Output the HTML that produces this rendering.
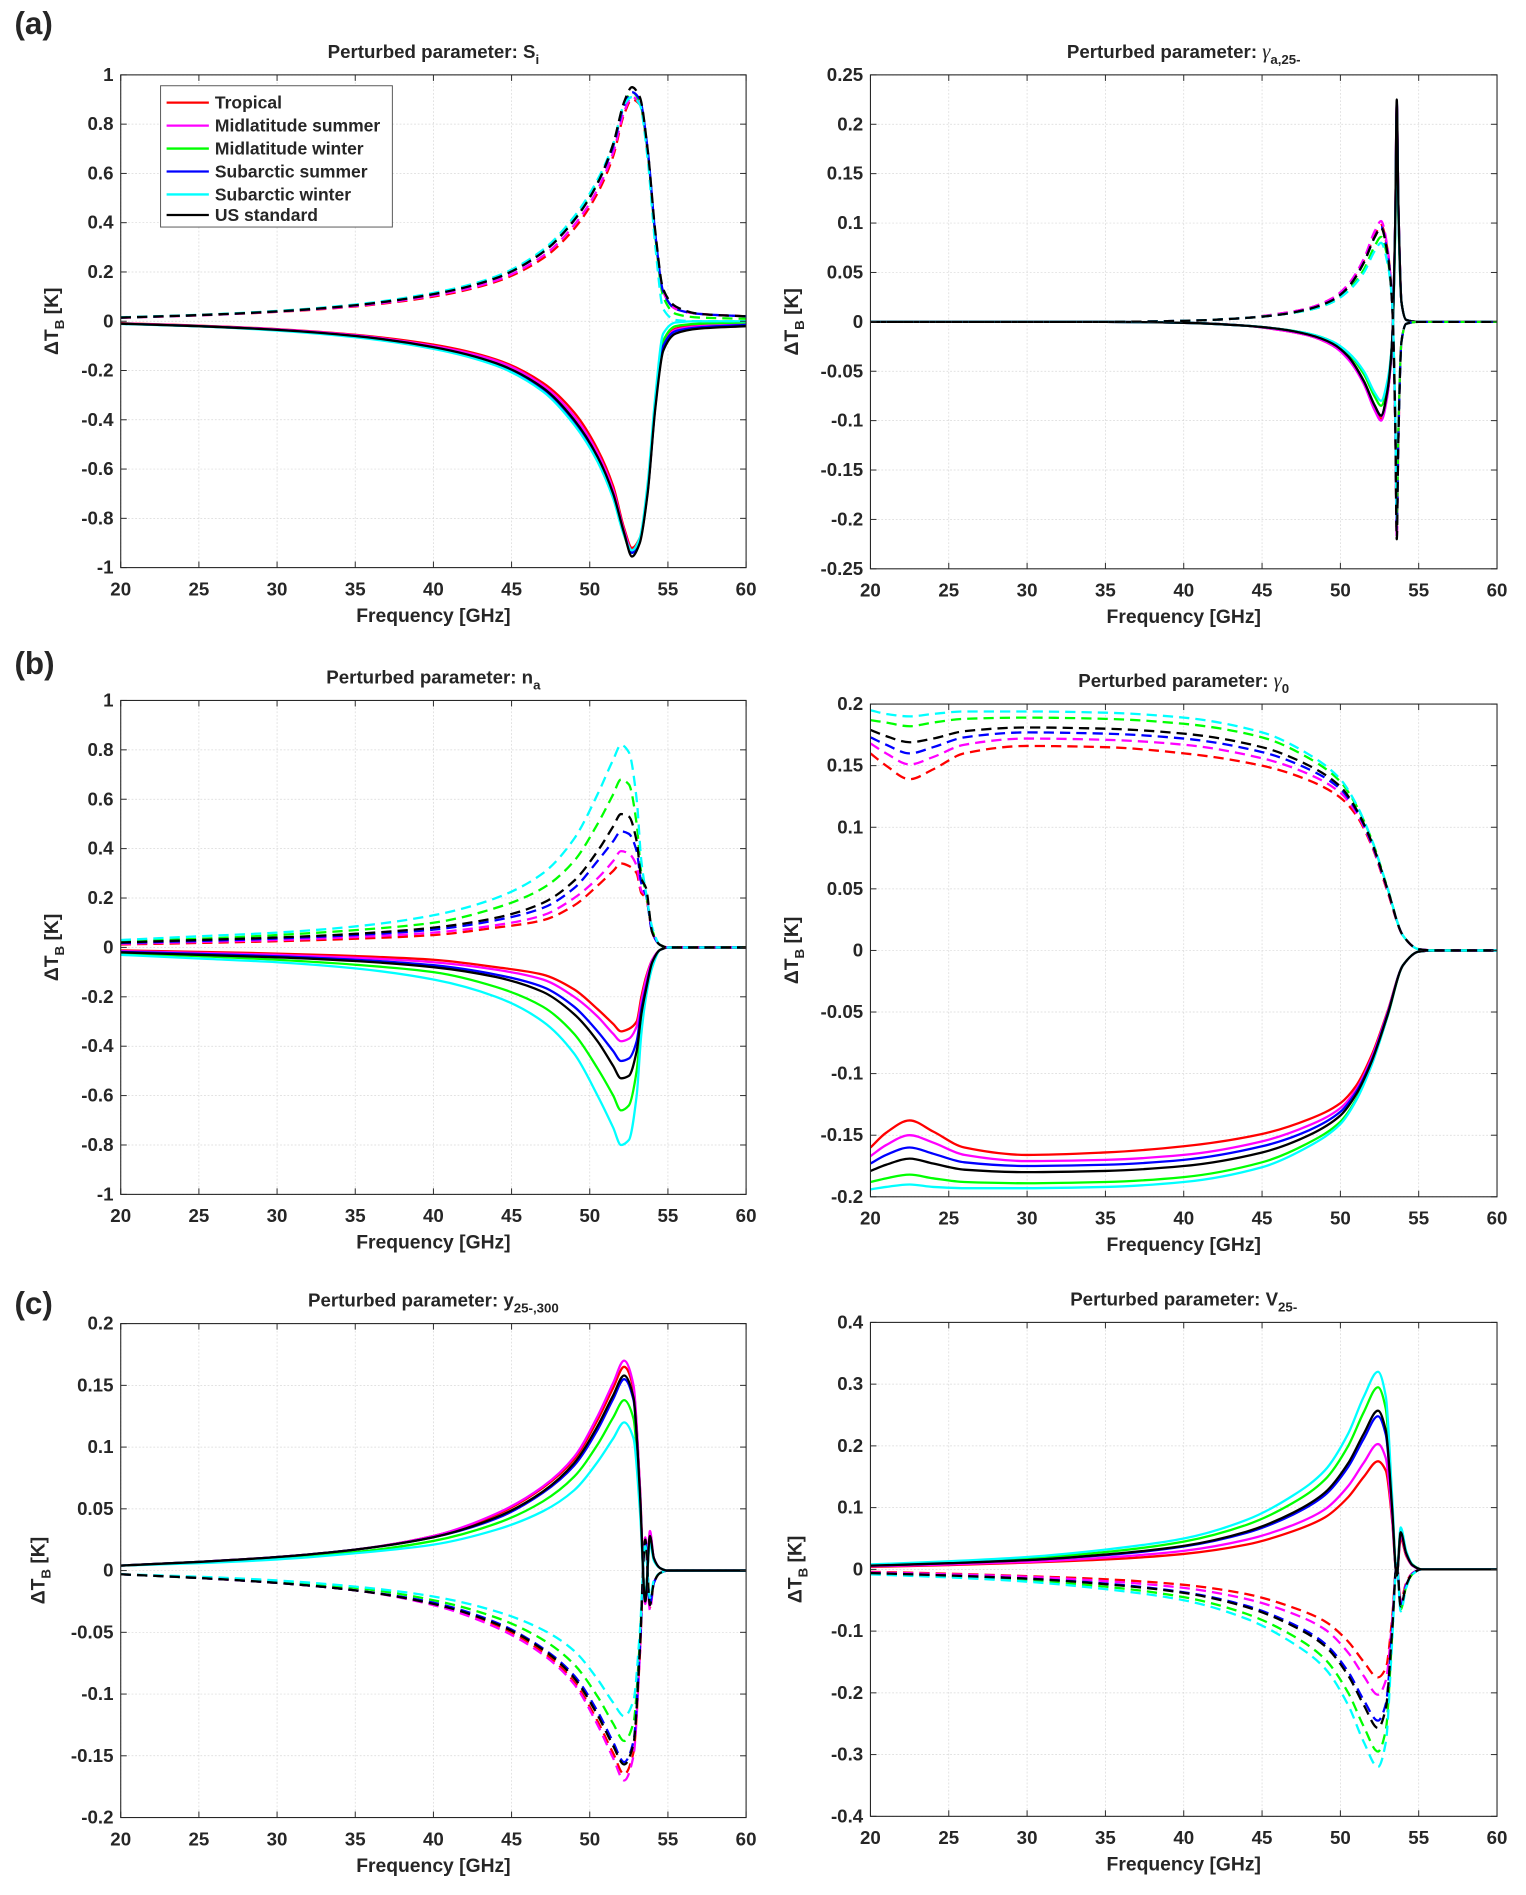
<!DOCTYPE html>
<html><head><meta charset="utf-8">
<style>
html,body{margin:0;padding:0;background:#fff;}
svg text{font-family:"Liberation Sans",sans-serif;font-weight:bold;fill:#262626;}
</style></head>
<body>
<svg id="fig" width="1526" height="1890" viewBox="0 0 1264 1565" preserveAspectRatio="none" xmlns="http://www.w3.org/2000/svg"></svg>
<script>
// ---------- Panel A1 (S_i) ----------
const a1Freq=[20,25,30,35,40,44,47,49,50.5,51.5,52.2,52.7,53.2,53.7,54.2,54.7,55.5,57,60];
const a1SolidTrop=[-0.008,-0.018,-0.032,-0.055,-0.095,-0.155,-0.25,-0.37,-0.52,-0.67,-0.84,-0.92,-0.88,-0.68,-0.33,-0.1,-0.03,-0.015,-0.01];
const a1SolidMidS=[-0.009,-0.019,-0.033,-0.057,-0.1,-0.16,-0.26,-0.385,-0.535,-0.685,-0.85,-0.93,-0.885,-0.69,-0.34,-0.1,-0.035,-0.02,-0.012];
const a1SolidMidW=[-0.01,-0.02,-0.036,-0.062,-0.108,-0.175,-0.28,-0.41,-0.56,-0.71,-0.87,-0.94,-0.89,-0.69,-0.33,-0.08,-0.02,-0.01,-0.005];
const a1SolidSubS=[-0.01,-0.02,-0.035,-0.06,-0.106,-0.172,-0.275,-0.405,-0.555,-0.705,-0.865,-0.94,-0.89,-0.69,-0.34,-0.1,-0.04,-0.025,-0.015];
const a1SolidSubW=[-0.011,-0.021,-0.038,-0.065,-0.112,-0.18,-0.285,-0.42,-0.57,-0.72,-0.87,-0.93,-0.88,-0.66,-0.3,-0.05,-0.005,0,0];
const a1SolidUS=[-0.01,-0.02,-0.035,-0.06,-0.105,-0.17,-0.27,-0.4,-0.55,-0.7,-0.86,-0.955,-0.9,-0.7,-0.35,-0.12,-0.05,-0.03,-0.02];
const a1DashTrop=[0.014,0.024,0.038,0.06,0.1,0.16,0.255,0.375,0.52,0.67,0.84,0.9,0.88,0.68,0.35,0.12,0.05,0.03,0.02];
const a1DashMidS=[0.014,0.024,0.039,0.062,0.104,0.165,0.265,0.39,0.535,0.685,0.85,0.91,0.885,0.69,0.35,0.12,0.05,0.03,0.02];
const a1DashMidW=[0.015,0.025,0.041,0.066,0.112,0.178,0.285,0.415,0.565,0.715,0.88,0.93,0.89,0.69,0.34,0.1,0.03,0.015,0.01];
const a1DashSubS=[0.015,0.025,0.04,0.065,0.11,0.175,0.28,0.41,0.56,0.71,0.875,0.93,0.9,0.7,0.35,0.12,0.05,0.03,0.02];
const a1DashSubW=[0.016,0.026,0.042,0.068,0.115,0.182,0.29,0.425,0.575,0.72,0.88,0.91,0.88,0.66,0.3,0.05,0.005,0,0];
const a1DashUS=[0.015,0.025,0.04,0.065,0.11,0.175,0.28,0.41,0.56,0.72,0.89,0.95,0.91,0.7,0.36,0.13,0.06,0.03,0.02];
// ---------- Panel A2 (gamma_a,25-) ----------
const a2Freq=[20,35,40,44,46,48,49.5,50.5,51.5,52.2,52.6,53.0,53.3,53.5,53.6,53.7,53.9,54.2,55,60];
const a2SolidTrop=[0,0,-0.001,-0.004,-0.008,-0.014,-0.024,-0.037,-0.062,-0.088,-0.098,-0.074,-0.02,0.1,0.22,0.12,0.02,0.002,0,0];
const a2SolidMidS=[0,0,-0.001,-0.004,-0.008,-0.014,-0.024,-0.038,-0.063,-0.09,-0.1,-0.075,-0.02,0.1,0.22,0.12,0.02,0.002,0,0];
const a2SolidMidW=[0,0,-0.001,-0.004,-0.007,-0.012,-0.02,-0.032,-0.053,-0.076,-0.085,-0.065,-0.02,0.09,0.21,0.11,0.02,0.002,0,0];
const a2SolidSubS=[0,0,-0.001,-0.004,-0.007,-0.013,-0.022,-0.035,-0.06,-0.085,-0.095,-0.07,-0.02,0.1,0.222,0.12,0.02,0.002,0,0];
const a2SolidSubW=[0,0,-0.001,-0.004,-0.007,-0.012,-0.02,-0.031,-0.05,-0.072,-0.08,-0.06,-0.02,0.09,0.21,0.11,0.02,0.002,0,0];
const a2SolidUS=[0,0,-0.001,-0.004,-0.007,-0.013,-0.022,-0.035,-0.06,-0.085,-0.095,-0.07,-0.02,0.1,0.225,0.12,0.02,0.002,0,0];
const a2DashTrop=[0,0,0.001,0.004,0.008,0.014,0.024,0.037,0.062,0.088,0.098,0.074,0.02,-0.1,-0.215,-0.12,-0.02,-0.002,0,0];
const a2DashMidS=[0,0,0.001,0.004,0.008,0.014,0.024,0.038,0.064,0.092,0.102,0.076,0.02,-0.1,-0.22,-0.12,-0.02,-0.002,0,0];
const a2DashMidW=[0,0,0.001,0.004,0.007,0.012,0.02,0.032,0.053,0.077,0.086,0.065,0.02,-0.09,-0.2,-0.11,-0.02,-0.002,0,0];
const a2DashSubS=[0,0,0.001,0.004,0.007,0.013,0.022,0.035,0.06,0.086,0.096,0.07,0.02,-0.1,-0.21,-0.12,-0.02,-0.002,0,0];
const a2DashSubW=[0,0,0.001,0.004,0.007,0.012,0.02,0.031,0.05,0.072,0.08,0.06,0.02,-0.09,-0.2,-0.11,-0.02,-0.002,0,0];
const a2DashUS=[0,0,0.001,0.004,0.007,0.013,0.022,0.035,0.06,0.086,0.095,0.07,0.02,-0.1,-0.22,-0.12,-0.02,-0.002,0,0];
// ---------- Panel B1 (n_a) ----------
const b1Freq=[20,25,30,35,40,44,47,49,50.5,51.5,52,52.5,53,53.3,53.6,54,54.5,55,60];
const b1SolidTrop=[-0.012,-0.018,-0.025,-0.035,-0.05,-0.08,-0.11,-0.17,-0.25,-0.31,-0.34,-0.33,-0.3,-0.2,-0.12,-0.05,-0.01,0,0];
const b1SolidMidS=[-0.015,-0.022,-0.03,-0.042,-0.06,-0.09,-0.13,-0.2,-0.28,-0.35,-0.38,-0.37,-0.32,-0.22,-0.13,-0.05,-0.01,0,0];
const b1SolidMidW=[-0.025,-0.035,-0.05,-0.07,-0.1,-0.16,-0.24,-0.35,-0.49,-0.6,-0.66,-0.64,-0.5,-0.3,-0.18,-0.07,-0.01,0,0];
const b1SolidSubS=[-0.018,-0.026,-0.036,-0.05,-0.072,-0.11,-0.16,-0.24,-0.34,-0.42,-0.46,-0.45,-0.38,-0.25,-0.16,-0.06,-0.01,0,0];
const b1SolidSubW=[-0.03,-0.045,-0.06,-0.085,-0.13,-0.2,-0.3,-0.43,-0.6,-0.73,-0.8,-0.78,-0.6,-0.35,-0.2,-0.08,-0.01,0,0];
const b1SolidUS=[-0.02,-0.03,-0.04,-0.055,-0.08,-0.12,-0.18,-0.27,-0.38,-0.48,-0.53,-0.52,-0.42,-0.27,-0.17,-0.06,-0.01,0,0];
const b1DashTrop=[0.012,0.018,0.025,0.035,0.05,0.08,0.11,0.17,0.25,0.31,0.34,0.33,0.3,0.22,0.2,0.06,0.01,0,0];
const b1DashMidS=[0.015,0.022,0.03,0.042,0.06,0.09,0.13,0.2,0.28,0.35,0.39,0.38,0.33,0.23,0.21,0.06,0.01,0,0];
const b1DashMidW=[0.025,0.035,0.05,0.07,0.1,0.16,0.24,0.35,0.5,0.62,0.68,0.66,0.5,0.3,0.22,0.07,0.01,0,0];
const b1DashSubS=[0.018,0.026,0.036,0.05,0.072,0.11,0.16,0.24,0.35,0.43,0.47,0.46,0.39,0.26,0.21,0.06,0.01,0,0];
const b1DashSubW=[0.03,0.045,0.06,0.085,0.13,0.2,0.3,0.44,0.62,0.76,0.82,0.79,0.6,0.35,0.22,0.08,0.01,0,0];
const b1DashUS=[0.02,0.03,0.04,0.055,0.08,0.12,0.18,0.27,0.39,0.49,0.54,0.53,0.43,0.28,0.24,0.06,0.01,0,0];
// ---------- Panel B2 (gamma_0) ----------
const b2Freq=[20,21,22.5,24,26,30,35,40,45,48,50,51,52,53,54,55,56,60];
const b2DashTrop=[0.16,0.15,0.139,0.147,0.16,0.166,0.165,0.16,0.15,0.138,0.124,0.11,0.085,0.048,0.012,0.001,0,0];
const b2DashMidS=[0.168,0.16,0.151,0.157,0.167,0.172,0.171,0.167,0.156,0.143,0.128,0.112,0.086,0.049,0.012,0.001,0,0];
const b2DashSubS=[0.173,0.167,0.16,0.165,0.173,0.177,0.176,0.172,0.161,0.147,0.131,0.114,0.087,0.05,0.012,0.001,0,0];
const b2DashUS=[0.179,0.174,0.169,0.172,0.178,0.181,0.18,0.176,0.165,0.15,0.133,0.115,0.088,0.05,0.012,0.001,0,0];
const b2DashMidW=[0.187,0.185,0.182,0.185,0.188,0.189,0.188,0.184,0.173,0.156,0.137,0.118,0.09,0.051,0.012,0.001,0,0];
const b2DashSubW=[0.195,0.192,0.19,0.192,0.194,0.194,0.193,0.189,0.177,0.159,0.139,0.119,0.09,0.051,0.012,0.001,0,0];
const b2SolidTrop=[-0.16,-0.148,-0.138,-0.147,-0.16,-0.166,-0.164,-0.159,-0.149,-0.137,-0.124,-0.11,-0.085,-0.05,-0.012,-0.001,0,0];
const b2SolidMidS=[-0.167,-0.158,-0.15,-0.156,-0.166,-0.171,-0.17,-0.166,-0.155,-0.142,-0.128,-0.113,-0.087,-0.051,-0.012,-0.001,0,0];
const b2SolidSubS=[-0.173,-0.166,-0.16,-0.165,-0.172,-0.175,-0.174,-0.17,-0.159,-0.146,-0.131,-0.115,-0.089,-0.052,-0.012,-0.001,0,0];
const b2SolidUS=[-0.179,-0.174,-0.169,-0.173,-0.178,-0.18,-0.179,-0.175,-0.164,-0.15,-0.134,-0.117,-0.09,-0.053,-0.012,-0.001,0,0];
const b2SolidMidW=[-0.188,-0.185,-0.182,-0.185,-0.188,-0.189,-0.188,-0.184,-0.172,-0.156,-0.139,-0.121,-0.092,-0.054,-0.012,-0.001,0,0];
const b2SolidSubW=[-0.194,-0.192,-0.19,-0.192,-0.193,-0.193,-0.192,-0.188,-0.176,-0.159,-0.141,-0.122,-0.093,-0.054,-0.012,-0.001,0,0];
// ---------- Panel C1 (y_25-,300) ----------
const c1Freq=[20,25,30,35,40,44,47,49,50.5,51.5,52.2,52.8,53.2,53.55,53.85,54.1,54.5,55,60];
const c1SolidTrop=[0.004,0.007,0.011,0.017,0.028,0.045,0.067,0.09,0.122,0.148,0.165,0.147,0.07,-0.025,0.03,0.01,0.002,0,0];
const c1SolidMidS=[0.004,0.007,0.011,0.017,0.028,0.046,0.068,0.092,0.125,0.152,0.17,0.15,0.07,-0.027,0.032,0.01,0.002,0,0];
const c1SolidMidW=[0.004,0.007,0.01,0.015,0.024,0.038,0.056,0.076,0.102,0.124,0.138,0.123,0.058,-0.022,0.025,0.009,0.002,0,0];
const c1SolidSubS=[0.004,0.007,0.011,0.017,0.027,0.042,0.063,0.085,0.114,0.139,0.155,0.138,0.064,-0.024,0.027,0.01,0.002,0,0];
const c1SolidSubW=[0.004,0.006,0.009,0.014,0.021,0.033,0.048,0.065,0.088,0.107,0.12,0.107,0.05,-0.02,0.022,0.008,0.002,0,0];
const c1SolidUS=[0.004,0.007,0.011,0.017,0.027,0.043,0.064,0.087,0.117,0.142,0.158,0.14,0.065,-0.025,0.028,0.01,0.002,0,0];
const c1DashTrop=[-0.003,-0.006,-0.01,-0.016,-0.027,-0.044,-0.066,-0.09,-0.122,-0.148,-0.165,-0.147,-0.07,0.025,-0.03,-0.01,-0.002,0,0];
const c1DashMidS=[-0.003,-0.006,-0.01,-0.016,-0.028,-0.046,-0.068,-0.092,-0.125,-0.152,-0.17,-0.15,-0.07,0.027,-0.032,-0.01,-0.002,0,0];
const c1DashMidW=[-0.003,-0.006,-0.009,-0.014,-0.024,-0.038,-0.056,-0.076,-0.102,-0.124,-0.138,-0.123,-0.058,0.022,-0.025,-0.009,-0.002,0,0];
const c1DashSubS=[-0.003,-0.006,-0.01,-0.016,-0.026,-0.042,-0.063,-0.085,-0.114,-0.139,-0.155,-0.138,-0.064,0.024,-0.027,-0.01,-0.002,0,0];
const c1DashSubW=[-0.003,-0.005,-0.008,-0.013,-0.021,-0.033,-0.048,-0.065,-0.088,-0.107,-0.118,-0.105,-0.05,0.02,-0.022,-0.008,-0.002,0,0];
const c1DashUS=[-0.003,-0.006,-0.01,-0.016,-0.027,-0.043,-0.064,-0.087,-0.117,-0.142,-0.157,-0.14,-0.065,0.025,-0.028,-0.01,-0.002,0,0];
// ---------- Panel C2 (V_25-) ----------
const c2Freq=[20,25,30,35,40,44,47,49,50.5,51.5,52.4,52.9,53.3,53.6,53.85,54.2,54.6,55.2,60];
const c2SolidTrop=[0.004,0.007,0.011,0.016,0.025,0.04,0.062,0.084,0.117,0.15,0.175,0.16,0.08,-0.01,0.05,0.022,0.006,0,0];
const c2SolidMidS=[0.005,0.008,0.012,0.019,0.03,0.048,0.072,0.097,0.135,0.173,0.203,0.18,0.085,-0.01,0.055,0.024,0.006,0,0];
const c2SolidMidW=[0.007,0.012,0.018,0.028,0.045,0.072,0.108,0.145,0.2,0.255,0.295,0.26,0.11,-0.01,0.065,0.028,0.008,0,0];
const c2SolidSubS=[0.006,0.01,0.015,0.023,0.037,0.059,0.089,0.12,0.166,0.212,0.248,0.218,0.1,-0.01,0.06,0.026,0.007,0,0];
const c2SolidSubW=[0.008,0.013,0.02,0.032,0.05,0.08,0.12,0.16,0.22,0.28,0.32,0.28,0.12,-0.01,0.068,0.03,0.008,0,0];
const c2SolidUS=[0.006,0.01,0.015,0.024,0.038,0.061,0.092,0.124,0.172,0.22,0.257,0.225,0.1,-0.01,0.06,0.026,0.007,0,0];
const c2DashTrop=[-0.004,-0.007,-0.011,-0.016,-0.025,-0.04,-0.062,-0.084,-0.117,-0.15,-0.175,-0.16,-0.08,0.01,-0.05,-0.022,-0.006,0,0];
const c2DashMidS=[-0.005,-0.008,-0.012,-0.019,-0.03,-0.048,-0.072,-0.097,-0.135,-0.173,-0.203,-0.18,-0.085,0.01,-0.055,-0.024,-0.006,0,0];
const c2DashMidW=[-0.007,-0.012,-0.018,-0.028,-0.045,-0.072,-0.108,-0.145,-0.2,-0.255,-0.295,-0.26,-0.11,0.01,-0.065,-0.028,-0.008,0,0];
const c2DashSubS=[-0.006,-0.01,-0.015,-0.023,-0.037,-0.059,-0.089,-0.12,-0.166,-0.212,-0.245,-0.218,-0.1,0.01,-0.06,-0.026,-0.007,0,0];
const c2DashSubW=[-0.008,-0.013,-0.02,-0.032,-0.05,-0.08,-0.12,-0.16,-0.22,-0.28,-0.32,-0.28,-0.12,0.01,-0.068,-0.03,-0.008,0,0];
const c2DashUS=[-0.006,-0.01,-0.015,-0.024,-0.038,-0.061,-0.092,-0.124,-0.172,-0.22,-0.257,-0.225,-0.1,0.01,-0.06,-0.026,-0.007,0,0];

const xTicks=[20,25,30,35,40,45,50,55,60];
const atmNames=["Tropical","Midlatitude summer","Midlatitude winter","Subarctic summer","Subarctic winter","US standard"];
const atmColors=["#ff0000","#ff00ff","#00ff00","#0000ff","#00ffff","#000000"];
const atmKeys=["tropical","midlatitude-summer","midlatitude-winter","subarctic-summer","subarctic-winter","us-standard"];

const panels=[
 {id:"a1",x0:100,x1:618,y0:62,y1:470,ymin:-1,ymax:1,step:0.2,ylabOff:52,title:["Perturbed parameter: S","i",false],freq:a1Freq,
  solid:[a1SolidTrop,a1SolidMidS,a1SolidMidW,a1SolidSubS,a1SolidSubW,a1SolidUS],dash:[a1DashTrop,a1DashMidS,a1DashMidW,a1DashSubS,a1DashSubW,a1DashUS],dashFirst:false},
 {id:"a2",x0:721,x1:1240,y0:62,y1:471,ymin:-0.25,ymax:0.25,step:0.05,ylabOff:60,title:["Perturbed parameter: ","a,25-",true],freq:a2Freq,
  solid:[a2SolidTrop,a2SolidMidS,a2SolidMidW,a2SolidSubS,a2SolidSubW,a2SolidUS],dash:[a2DashTrop,a2DashMidS,a2DashMidW,a2DashSubS,a2DashSubW,a2DashUS],dashFirst:false},
 {id:"b1",x0:100,x1:618,y0:580,y1:989,ymin:-1,ymax:1,step:0.2,ylabOff:52,title:["Perturbed parameter: n","a",false],freq:b1Freq,
  solid:[b1SolidTrop,b1SolidMidS,b1SolidMidW,b1SolidSubS,b1SolidSubW,b1SolidUS],dash:[b1DashTrop,b1DashMidS,b1DashMidW,b1DashSubS,b1DashSubW,b1DashUS],dashFirst:false},
 {id:"b2",x0:721,x1:1240,y0:583,y1:991,ymin:-0.2,ymax:0.2,step:0.05,ylabOff:60,title:["Perturbed parameter: ","0",true],freq:b2Freq,
  solid:[b2SolidTrop,b2SolidMidS,b2SolidMidW,b2SolidSubS,b2SolidSubW,b2SolidUS],dash:[b2DashTrop,b2DashMidS,b2DashMidW,b2DashSubS,b2DashSubW,b2DashUS],dashFirst:false},
 {id:"c1",x0:100,x1:618,y0:1096,y1:1505,ymin:-0.2,ymax:0.2,step:0.05,ylabOff:63,title:["Perturbed parameter: y","25-,300",false],freq:c1Freq,
  solid:[c1SolidTrop,c1SolidMidS,c1SolidMidW,c1SolidSubS,c1SolidSubW,c1SolidUS],dash:[c1DashTrop,c1DashMidS,c1DashMidW,c1DashSubS,c1DashSubW,c1DashUS],dashFirst:true},
 {id:"c2",x0:721,x1:1240,y0:1095,y1:1504,ymin:-0.4,ymax:0.4,step:0.1,ylabOff:57,title:["Perturbed parameter: V","25-",false],freq:c2Freq,
  solid:[c2SolidTrop,c2SolidMidS,c2SolidMidW,c2SolidSubS,c2SolidSubW,c2SolidUS],dash:[c2DashTrop,c2DashMidS,c2DashMidW,c2DashSubS,c2DashSubW,c2DashUS],dashFirst:true}
];

const NS="http://www.w3.org/2000/svg";
const svg=document.getElementById("fig");
function mk(tag,attrs,parent){const e=document.createElementNS(NS,tag);for(const k in attrs)e.setAttribute(k,attrs[k]);(parent||svg).appendChild(e);return e;}

function monoPath(xs,ys){
  const n=xs.length;const d=[],m=new Array(n);
  for(let i=0;i<n-1;i++)d.push((ys[i+1]-ys[i])/(xs[i+1]-xs[i]));
  m[0]=d[0];m[n-1]=d[n-2];
  for(let i=1;i<n-1;i++){ if(d[i-1]*d[i]<=0)m[i]=0; else {const w1=2*(xs[i+1]-xs[i])+(xs[i]-xs[i-1]),w2=(xs[i+1]-xs[i])+2*(xs[i]-xs[i-1]);m[i]=(w1+w2)/(w1/d[i-1]+w2/d[i]);} }
  let p="M"+xs[0].toFixed(2)+","+ys[0].toFixed(2);
  for(let i=0;i<n-1;i++){const h=xs[i+1]-xs[i];
    p+="C"+(xs[i]+h/3).toFixed(2)+","+(ys[i]+m[i]*h/3).toFixed(2)+" "+(xs[i+1]-h/3).toFixed(2)+","+(ys[i+1]-m[i+1]*h/3).toFixed(2)+" "+xs[i+1].toFixed(2)+","+ys[i+1].toFixed(2);}
  return p;
}
function fmt(v){let s=(Math.round(v*1000)/1000).toString();if(s==="-0")s="0";return s;}

panels.forEach(P=>{
  const g=mk("g",{});
  
  
  const xs=f=>P.x0+(f-20)/40*(P.x1-P.x0);
  const ys=v=>P.y1-(v-P.ymin)/(P.ymax-P.ymin)*(P.y1-P.y0);
  const grid=mk("g",{stroke:"#d8d8d8","stroke-width":"0.6","stroke-dasharray":"1.5,1.5"},g);
  
  
  xTicks.forEach(t=>{mk("line",{x1:xs(t),x2:xs(t),y1:P.y0,y2:P.y1},grid);});
  const nT=Math.round((P.ymax-P.ymin)/P.step);
  const yTicks=[];for(let i=0;i<=nT;i++)yTicks.push(P.ymin+i*P.step);
  yTicks.forEach(t=>{mk("line",{x1:P.x0,x2:P.x1,y1:ys(t),y2:ys(t)},grid);});
  const clip=mk("clipPath",{id:"clip-"+P.id},g);
  mk("rect",{x:P.x0,y:P.y0,width:P.x1-P.x0,height:P.y1-P.y0},clip);
  const lines=mk("g",{"clip-path":"url(#clip-"+P.id+")",fill:"none","stroke-linejoin":"round"},g);
  const px=P.freq.map(xs);
  const order=P.dashFirst?["dash","solid"]:["solid","dash"];
  order.forEach(kind=>{
    P[kind].forEach((arr,i)=>{
      const path=mk("path",{d:monoPath(px,arr.map(ys)),stroke:atmColors[i],"stroke-width":"1.9"},lines);
      if(kind==="dash")path.setAttribute("stroke-dasharray","8.5,5");
      
      
    });
  });
  const box=mk("rect",{x:P.x0,y:P.y0,width:P.x1-P.x0,height:P.y1-P.y0,fill:"none",stroke:"#262626","stroke-width":"0.9"},g);
  
  
  const ticks=mk("g",{stroke:"#262626","stroke-width":"0.8"},g);
  xTicks.forEach(t=>{mk("line",{x1:xs(t),x2:xs(t),y1:P.y1,y2:P.y1-5},ticks);mk("line",{x1:xs(t),x2:xs(t),y1:P.y0,y2:P.y0+5},ticks);});
  yTicks.forEach(t=>{mk("line",{x1:P.x0,x2:P.x0+5,y1:ys(t),y2:ys(t)},ticks);mk("line",{x1:P.x1,x2:P.x1-5,y1:ys(t),y2:ys(t)},ticks);});
  xTicks.forEach(t=>{const tx=mk("text",{x:xs(t),y:P.y1+23,"text-anchor":"middle","font-size":"15.5"},g);tx.textContent=String(t);
    
    });
  yTicks.forEach(t=>{const tx=mk("text",{x:P.x0-6,y:ys(t)+5,"text-anchor":"end","font-size":"15.5"},g);tx.textContent=fmt(t);
    
    });
  const xl=mk("text",{x:(P.x0+P.x1)/2,y:P.y1+45,"text-anchor":"middle","font-size":"16"},g);xl.textContent="Frequency [GHz]";
  
  
  const yl=mk("text",{transform:"translate("+(P.x0-P.ylabOff)+","+((P.y0+P.y1)/2)+") rotate(-90)","text-anchor":"middle","font-size":"16"},g);
  yl.innerHTML='ΔT<tspan font-size="11" dy="5">B</tspan><tspan dy="-5"> [K]</tspan>';
  
  
  const tt=mk("text",{x:(P.x0+P.x1)/2,y:P.y0-14,"text-anchor":"middle","font-size":"15.5"},g);
  if(P.title[2]){tt.innerHTML=P.title[0]+'<tspan font-style="italic" font-weight="normal" font-family="Liberation Serif" font-size="17">γ</tspan><tspan font-size="11" dy="5">'+P.title[1]+'</tspan>';}
  else{tt.innerHTML=P.title[0]+'<tspan font-size="11" dy="5">'+P.title[1]+'</tspan>';}
  
  
});

[["(a)",28],["(b)",558],["(c)",1088]].forEach(r=>{const t=mk("text",{x:12,y:r[1],"font-size":"26","fill":"#000"});t.textContent=r[0];
  
  });

const lg=mk("g",{});


mk("rect",{x:133,y:71,width:192,height:117,fill:"#fff",stroke:"#555","stroke-width":"0.8"},lg);
const legY=[85,104,123,142,161,178];
atmNames.forEach((n,i)=>{
  const e=mk("g",{},lg);
  
  
  mk("line",{x1:138,x2:173,y1:legY[i],y2:legY[i],stroke:atmColors[i],"stroke-width":"1.9"},e);
  const t=mk("text",{x:178,y:legY[i]+5,"font-size":"14.5"},e);t.textContent=n;
});
</script>
</body></html>
